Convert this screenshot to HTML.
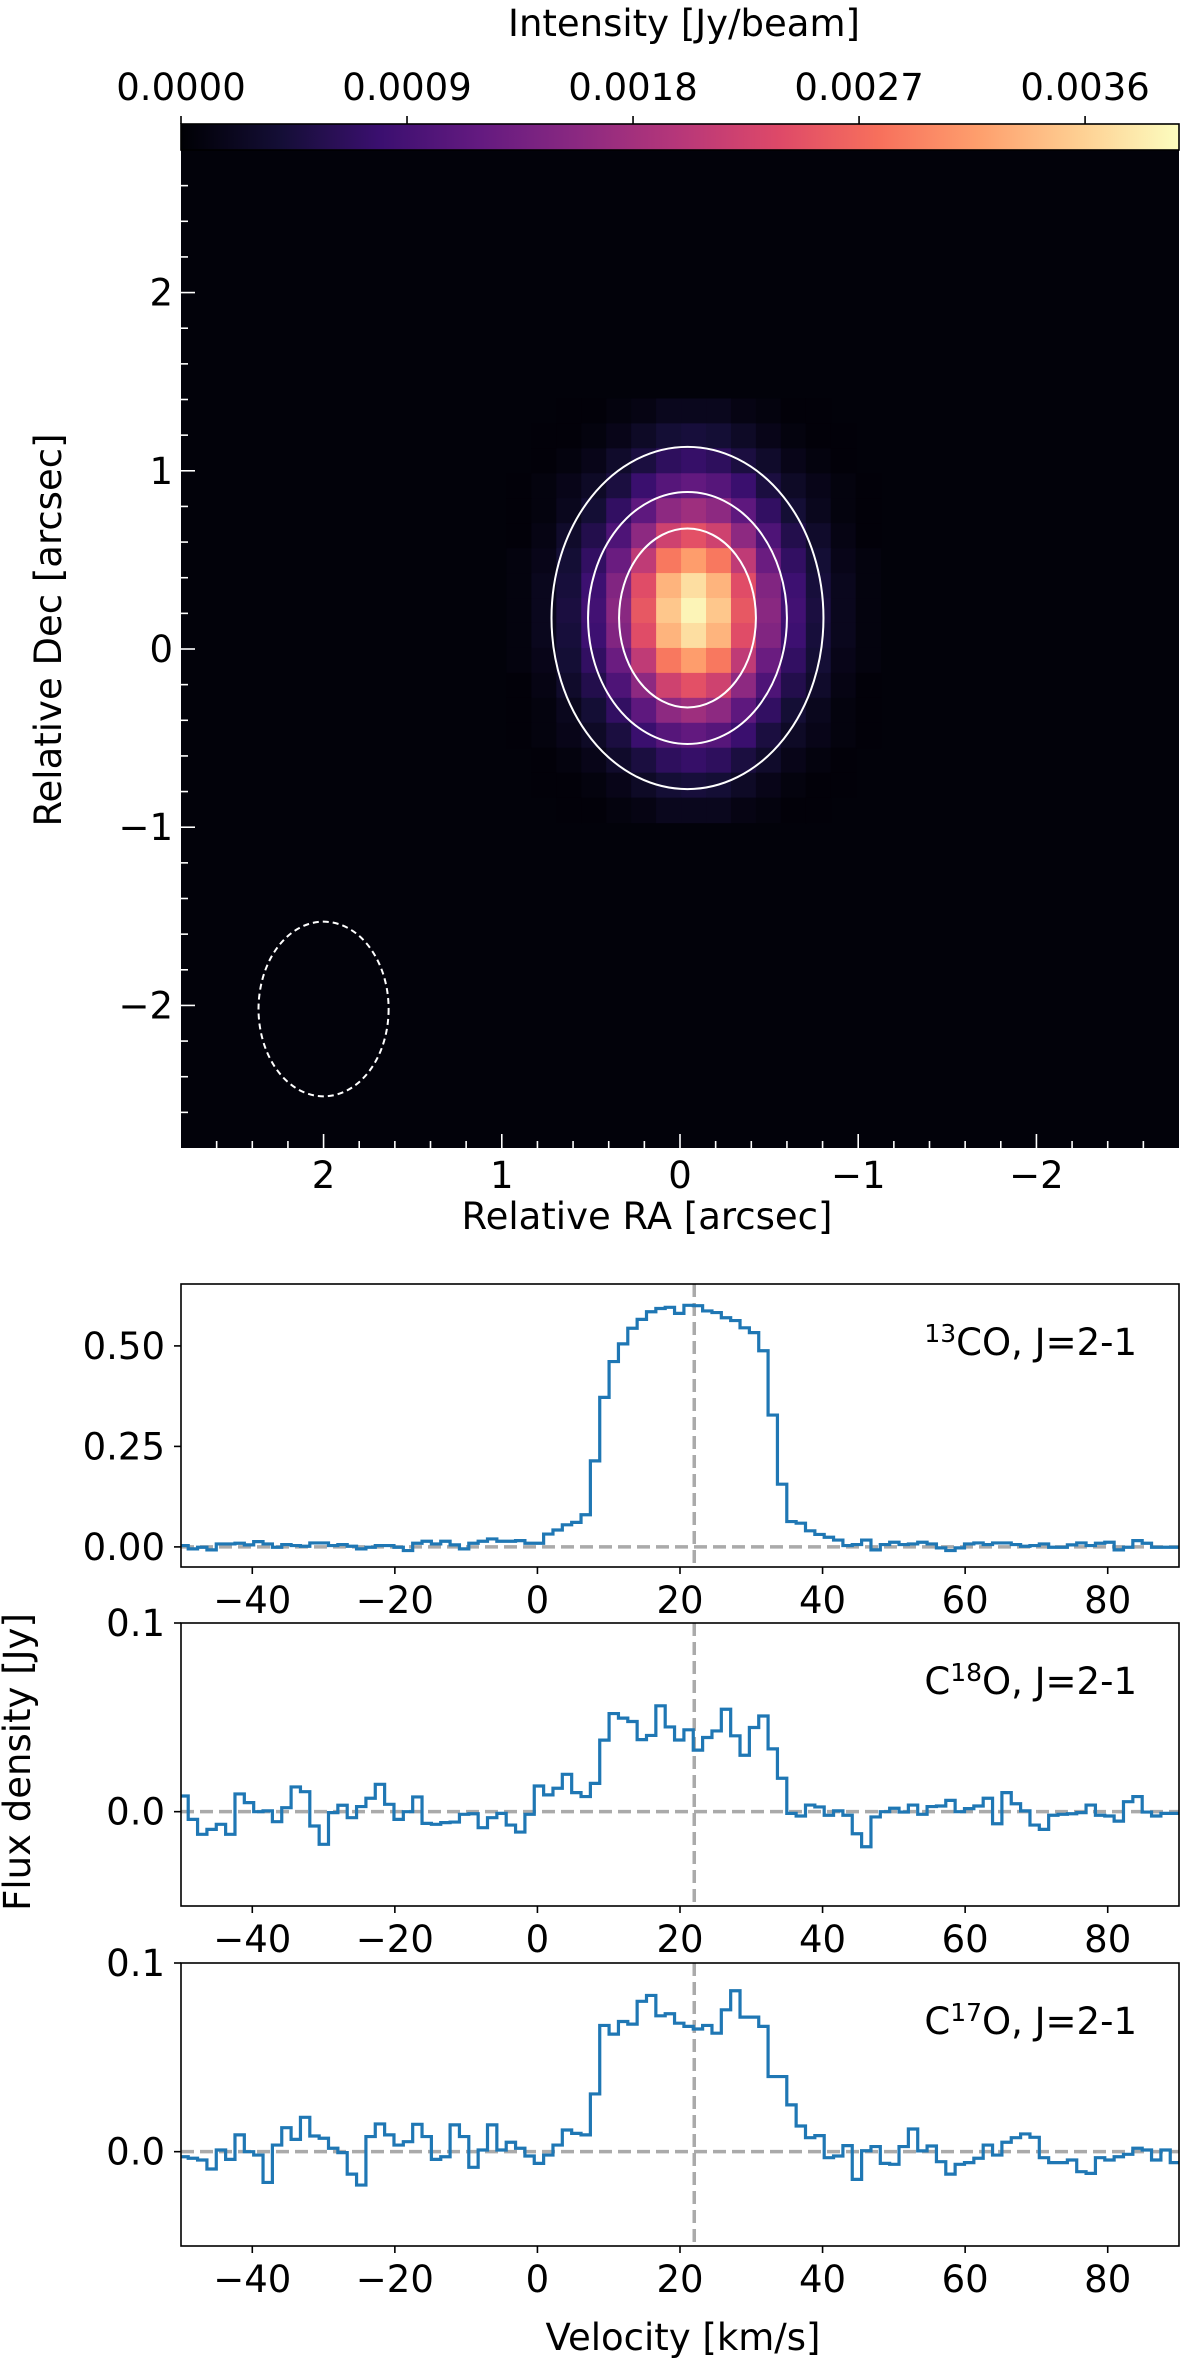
<!DOCTYPE html>
<html><head><meta charset="utf-8"><title>Moment map and spectra</title>
<style>
html,body{margin:0;padding:0;background:#fff;}
svg{display:block;font-family:"DejaVu Sans","Liberation Sans",sans-serif;}
</style></head>
<body>
<svg id="fig" width="1200" height="2361" viewBox="0 0 1200 2361" xmlns="http://www.w3.org/2000/svg">
  <rect width="1200" height="2361" fill="#fff"/>
  <g id="map"></g>
  <g id="cbar"></g>
  <g id="spec"></g>
  <text x="684" y="36" font-size="37" text-anchor="middle">Intensity [Jy/beam]</text>
  <text x="647" y="1229" font-size="37" text-anchor="middle">Relative RA [arcsec]</text>
  <text transform="translate(61,630) rotate(-90)" font-size="37" text-anchor="middle">Relative Dec [arcsec]</text>
  <text x="683" y="2350" font-size="37" text-anchor="middle">Velocity [km/s]</text>
  <text transform="translate(30,1762) rotate(-90)" font-size="37" text-anchor="middle">Flux density [Jy]</text>
</svg>
<script>
// ---------- Map data ----------
const vmax = 0.003974;
const cbarTicks = [0, 0.0009, 0.0018, 0.0027, 0.0036];
const cbarTickLabels = ["0.0000", "0.0009", "0.0018", "0.0027", "0.0036"];
const peakFlux = 0.0039;
// relative intensity (% of peak), rows from north (top) to south, cols from east (left) to west
const mapRows = [
 [0,0,1,1,2,3,5,5,5,3,2,1,1,0,0],
 [0,1,1,2,4,7,10,11,10,7,4,2,1,1,0],
 [0,1,2,4,8,12,17,19,17,12,8,4,2,1,0],
 [1,2,4,7,12,20,27,30,27,20,12,7,4,2,1],
 [1,2,5,10,18,29,41,45,41,29,18,10,5,2,1],
 [1,3,8,14,25,41,57,63,57,41,25,14,8,3,1],
 [2,4,10,18,32,53,73,81,73,53,32,18,10,4,2],
 [2,5,11,21,38,62,86,95,86,62,38,21,11,5,2],
 [2,5,12,22,40,65,90,100,90,65,40,22,12,5,2],
 [2,5,11,21,38,62,86,95,86,62,38,21,11,5,2],
 [2,4,10,18,32,53,73,81,73,53,32,18,10,4,2],
 [1,3,8,14,25,41,57,63,57,41,25,14,8,3,1],
 [1,2,5,10,18,29,41,45,41,29,18,10,5,2,1],
 [1,2,4,7,12,20,27,30,27,20,12,7,4,2,1],
 [0,1,2,4,8,12,17,19,17,12,8,4,2,1,0],
 [0,1,1,2,4,7,10,11,10,7,4,2,1,1,0],
 [0,0,1,1,2,3,5,5,5,3,2,1,1,0,0]
];
const gridCenterRA = -0.076, gridCenterDec = 0.216, cellSize = 0.14;
const contourRA = [-0.042, -0.042, -0.042];
const contourDec = [0.174, 0.174, 0.174];
const contourRx = [0.763, 0.558, 0.384];
const contourRy = [0.96, 0.707, 0.502];
const beamRA = 2.0, beamDec = -2.02, beamRx = 0.365, beamRy = 0.49;
const mapTicks = [-2, -1, 0, 1, 2];
const mapTickLabels = ["\u22122", "\u22121", "0", "1", "2"];

// ---------- Spectra data (mJy), channels from v=-50.3 with width 1.312 km/s ----------
const chanStart = -50.3, chanWidth = 1.312;
const flux13CO = [3.3,-5.0,-0.8,-7.4,7.4,7.4,9.1,5.0,13.2,7.4,-0.8,5.8,3.3,1.7,9.9,9.9,3.3,5.8,1.7,-5.0,-0.8,3.3,3.3,-0.8,-9.1,9.1,14.0,7.4,14.0,5.0,-5.0,9.1,14.0,19.8,14.0,14.0,15.7,9.1,9.1,32,42,55,61,80,214,372,461,505,544,566,585,593,596,581,601,600,587,583,570,563,545,533,488,328,156,63,59,40,31,24,17,3.3,5.8,17,-7.4,5.8,11.6,5.8,7.4,11.6,7.4,-2.5,-9.1,-2.5,7.4,9.9,5.8,9.9,9.9,5.8,1.7,3.3,7.4,-0.8,-0.8,5.0,9.9,3.3,9.1,11.6,-7.4,-0.8,15.7,9.1,-0.8,-0.8,-0.8];
const fluxC18O = [8.3,-4.1,-12.0,-9.4,-6.7,-12.0,9.4,4.8,0,0.4,-5.3,2.1,13.1,10.6,-7.6,-17.3,-0.5,3.4,-3.2,2.7,7.1,14.5,3.9,-4.1,0,7.8,-6.2,-6.7,-5.8,-5.5,-1.4,-1.1,-8.5,-3.2,-0.9,-7.1,-10.8,-1.4,13.6,8.9,12.4,19.8,10.1,8.0,15.0,37.9,52.0,49.6,47.8,38.2,40.4,56.1,44.9,38.0,43.4,32.6,39.3,42.8,54.3,40.2,29.9,44.6,50.7,33.3,17.7,-0.9,-2.3,3.5,2.5,-1.9,0.4,-1.9,-11.7,-18.6,-2.8,0,1.8,-0.2,3.5,-1.4,2.7,3.0,6.0,0,1.6,3.0,7.1,-6.4,10.1,4.2,0.4,-7.1,-9.4,-1.9,-1.4,-1.1,-0.5,3.5,-1.9,-2.3,-5.0,5.3,8.0,-0.2,-2.3,-0.9,-0.9];
const fluxC17O = [-2.7,-3.5,-4.4,-9.2,0.9,-4.1,8.9,0,-1.8,-16.3,3.5,12.7,6.5,18.2,8.3,7.1,1.8,-0.5,-11.9,-17.7,8.0,14.7,8.9,3.5,5.3,14.5,8.0,-4.1,-2.7,14.2,8.0,-8.3,0.9,14.2,0.9,5.0,1.8,-2.3,-6.2,-1.8,3.5,11.5,9.7,8.9,30.6,66.9,62.3,69.0,67.6,79.7,82.8,72.0,73.1,68.1,66.4,65.0,66.9,62.8,75.2,85.3,71.3,71.3,66.4,39.8,39.8,24.8,13.6,7.4,8.5,-3.2,-2.3,3.2,-14.7,0.5,2.7,-6.2,-6.7,2.7,12.0,0.4,3.0,-5.3,-11.9,-6.7,-5.8,-3.5,3.5,-1.8,5.0,7.4,9.4,7.6,-3.2,-5.8,-5.8,-4.4,-10.6,-11.5,-3.2,-4.4,-2.7,-1.4,1.8,0.9,-4.4,0.9,-5.8];
const systemicVelocity = 22;
const velTicks = [-40, -20, 0, 20, 40, 60, 80];
const velTickLabels = ["\u221240", "\u221220", "0", "20", "40", "60", "80"];
const p1Ticks = [0, 0.25, 0.5];
const p1TickLabels = ["0.00", "0.25", "0.50"];
const p23Ticks = [0, 0.1];
const p23TickLabels = ["0.0", "0.1"];

// ---------- helpers ----------
const NS = "http://www.w3.org/2000/svg";
function mk(tag, parent, attrs) {
  const e = document.createElementNS(NS, tag);
  for (const k in attrs) e.setAttribute(k, attrs[k]);
  parent.appendChild(e);
  return e;
}
const magmaStops = ["#000004","#140e36","#3b0f70","#641a80","#8c2981","#b73779","#de4968","#f7705c","#fe9f6d","#fecf92","#fcfdbf"];
function hex(h){return [parseInt(h.slice(1,3),16),parseInt(h.slice(3,5),16),parseInt(h.slice(5,7),16)];}
function magma(t) {
  t = Math.max(0, Math.min(1, t));
  const f = t * 10, i = Math.min(9, Math.floor(f)), u = f - i;
  const a = hex(magmaStops[i]), b = hex(magmaStops[i+1]);
  return "rgb(" + a.map((v,k)=>Math.round(v+(b[k]-v)*u)).join(",") + ")";
}

// ---------- Map ----------
const mapL = 181, mapR = 1179, mapT = 150, mapB = 1148;
const ppa = (mapR - mapL) / 5.6;
const mx = ra => 680 - ra * ppa;
const my = dec => 649 - dec * ppa;
const map = document.getElementById("map");
const bg = mk("rect", map, {x: mapL, y: mapT, width: mapR - mapL, height: mapB - mapT, fill: magma(0.012)});


const nR = mapRows.length, nC = mapRows[0].length;
mapRows.forEach((row, r) => {
  row.forEach((pct, c) => {
    if (pct <= 0) return;
    const ra = gridCenterRA - (c - (nC - 1) / 2) * cellSize;
    const dec = gridCenterDec - (r - (nR - 1) / 2) * cellSize;
    const val = pct / 100 * peakFlux;
    const x0 = mx(ra + cellSize / 2), y0 = my(dec + cellSize / 2);
    const cell = mk("rect", map, {x: x0.toFixed(2), y: y0.toFixed(2), width: (cellSize*ppa+0.6).toFixed(2), height: (cellSize*ppa+0.6).toFixed(2), fill: magma(val / vmax)});
    
    
  });
});
contourRx.forEach((rx, i) => {
  const el = mk("ellipse", map, {cx: mx(contourRA[i]), cy: my(contourDec[i]), rx: rx * ppa, ry: contourRy[i] * ppa, fill: "none", stroke: "#fff", "stroke-width": 2});
  
  
});
const beam = mk("ellipse", map, {cx: mx(beamRA), cy: my(beamDec), rx: beamRx * ppa, ry: beamRy * ppa, fill: "none", stroke: "#fff", "stroke-width": 2, "stroke-dasharray": "6,4"});


// ticks (inward, white)
for (let k = -14; k <= 14; k++) {
  const v = k * 0.2;
  const major = k % 5 === 0;
  const len = major ? 14 : 7;
  const xx = mx(v);
  if (xx > mapL + 1 && xx < mapR - 1) mk("line", map, {x1: xx, x2: xx, y1: mapB, y2: mapB - len, stroke: "#fff", "stroke-width": 1.6});
  const yy = my(v);
  if (yy > mapT + 1 && yy < mapB - 1) mk("line", map, {x1: mapL, x2: mapL + len, y1: yy, y2: yy, stroke: "#fff", "stroke-width": 1.6});
}
mapTicks.forEach((t, i) => {
  const tx = mk("text", map, {x: mx(t), y: mapB + 40, "font-size": 37, "text-anchor": "middle"});
  tx.textContent = mapTickLabels[i];
  
  
  const ty = mk("text", map, {x: 173, y: my(t) + 13, "font-size": 37, "text-anchor": "end"});
  ty.textContent = mapTickLabels[i];
  
  
});

// ---------- Colorbar ----------
const cb = document.getElementById("cbar");
const defs = mk("defs", cb, {});
const grad = mk("linearGradient", defs, {id: "magmaGrad", x1: 0, x2: 1, y1: 0, y2: 0});
for (let i = 0; i <= 20; i++) mk("stop", grad, {offset: i / 20, "stop-color": magma(i / 20)});
const cbRect = mk("rect", cb, {x: 181, y: 124, width: 998, height: 26, fill: "url(#magmaGrad)", stroke: "#000", "stroke-width": 1.6});


cbarTicks.forEach((t, i) => {
  const x = 181 + t / vmax * 998;
  mk("line", cb, {x1: x, x2: x, y1: 124, y2: 116, stroke: "#000", "stroke-width": 1.6});
  const tx = mk("text", cb, {x: x, y: 100, "font-size": 37, "text-anchor": "middle"});
  tx.textContent = cbarTickLabels[i];
  
  
});

// ---------- Spectra ----------
const spec = document.getElementById("spec");
const sL = 181, sR = 1179, sH = 283;
const vmin = -50, vmaxV = 90;
const sx = v => sL + (v - vmin) / (vmaxV - vmin) * (sR - sL);
const panels = [
  {top: 1284, ylo: -0.05, yhi: 0.654, data: flux13CO, ticks: p1Ticks, labels: p1TickLabels, name: "13co", iso: "13", pre: "", post: "CO, J=2-1"},
  {top: 1623, ylo: -0.05, yhi: 0.1, data: fluxC18O, ticks: p23Ticks, labels: p23TickLabels, name: "c18o", iso: "18", pre: "C", post: "O, J=2-1"},
  {top: 1963, ylo: -0.05, yhi: 0.1, data: fluxC17O, ticks: p23Ticks, labels: p23TickLabels, name: "c17o", iso: "17", pre: "C", post: "O, J=2-1"}
];
panels.forEach((p, pi) => {
  const g = mk("g", spec, {});
  
  
  const bot = p.top + sH;
  const sy = f => bot - (f - p.ylo) / (p.yhi - p.ylo) * sH;
  const clipId = "clip" + pi;
  const cp = mk("clipPath", g, {id: clipId});
  mk("rect", cp, {x: sL, y: p.top, width: sR - sL, height: sH});
  const inner = mk("g", g, {"clip-path": "url(#" + clipId + ")"});
  const h0 = mk("line", inner, {x1: sL, x2: sR, y1: sy(0), y2: sy(0), stroke: "#aaaaaa", "stroke-width": 3.5, "stroke-dasharray": "13,6"});
  
  
  const vl = mk("line", inner, {x1: sx(systemicVelocity), x2: sx(systemicVelocity), y1: p.top, y2: bot, stroke: "#aaaaaa", "stroke-width": 3.5, "stroke-dasharray": "13,6"});
  
  
  let d = "";
  p.data.forEach((mjy, i) => {
    const a = sx(chanStart + i * chanWidth), b = sx(chanStart + (i + 1) * chanWidth), y = sy(mjy / 1000);
    d += (i === 0 ? "M" : "L") + a.toFixed(2) + "," + y.toFixed(2) + "L" + b.toFixed(2) + "," + y.toFixed(2);
  });
  const path = mk("path", inner, {d: d, fill: "none", stroke: "#1f77b4", "stroke-width": 3.2, "stroke-linejoin": "miter"});
  
  
  const frame = mk("rect", g, {x: sL, y: p.top, width: sR - sL, height: sH, fill: "none", stroke: "#000", "stroke-width": 1.6});
  
  
  velTicks.forEach((t, i) => {
    mk("line", g, {x1: sx(t), x2: sx(t), y1: bot, y2: bot + 7, stroke: "#000", "stroke-width": 1.6});
    const tx = mk("text", g, {x: sx(t), y: bot + 46, "font-size": 37, "text-anchor": "middle"});
    tx.textContent = velTickLabels[i];
    
    
  });
  p.ticks.forEach((t, i) => {
    mk("line", g, {x1: sL, x2: sL - 7, y1: sy(t), y2: sy(t), stroke: "#000", "stroke-width": 1.6});
    const ty = mk("text", g, {x: 165, y: sy(t) + 13, "font-size": 37, "text-anchor": "end"});
    ty.textContent = p.labels[i];
    
    
  });
  const lab = mk("text", g, {x: 1137, y: p.top + 71, "font-size": 37, "text-anchor": "end"});
  
  
  if (p.pre) { const t0 = mk("tspan", lab, {}); t0.textContent = p.pre; }
  const t1 = mk("tspan", lab, {"font-size": 25, dy: -13}); t1.textContent = p.iso;
  const t2 = mk("tspan", lab, {dy: 13}); t2.textContent = p.post;
});
</script>
</body></html>
